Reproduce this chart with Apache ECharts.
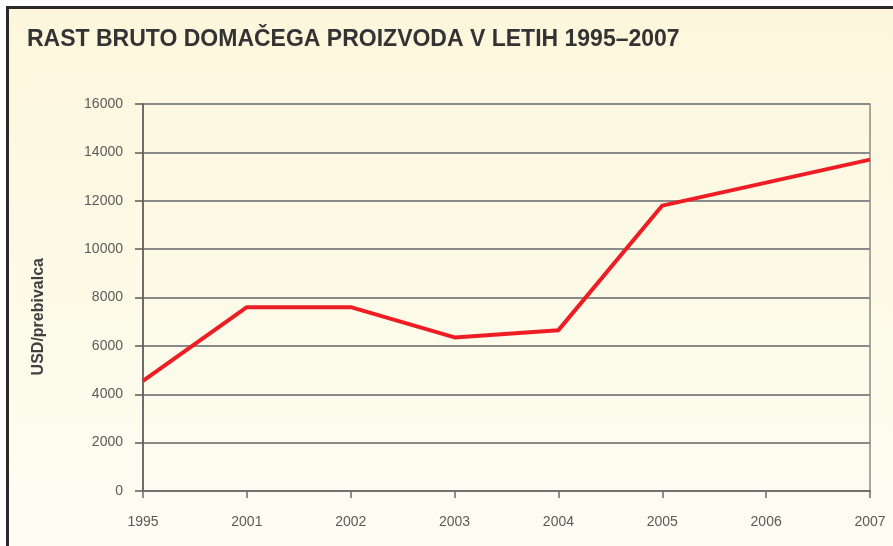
<!DOCTYPE html>
<html><head><meta charset="utf-8">
<style>html,body{margin:0;padding:0;background:#fff}#c{width:893px;height:546px}</style>
<script src="https://cdn.jsdelivr.net/npm/echarts@6/dist/echarts.min.js"></script>
</head><body><div id="c"></div>
<script>
const titleText = 'RAST BRUTO DOMAČEGA PROIZVODA V LETIH 1995–2007';
const yAxisName = 'USD/prebivalca';
const years = ['1995','2001','2002','2003','2004','2005','2006','2007'];
const gdpPerCapita = [4550, 7600, 7600, 6350, 6650, 11800, 12750, 13700];
const yTicks = [0, 2000, 4000, 6000, 8000, 10000, 12000, 14000, 16000];

const chart = echarts.init(document.getElementById('c'), null, {renderer:'canvas'});
chart.setOption({
  animation:false,
  backgroundColor:'#ffffff',
  graphic:[
    {type:'rect', z:-10, silent:true,
     shape:{x:7.5,y:7.5,width:1000,height:1000},
     style:{fill:new echarts.graphic.LinearGradient(0,0,0,0.55,[{offset:0,color:'#fcf7db'},{offset:1,color:'#fefdf3'}]),
            stroke:'#2a2a2a', lineWidth:3}},
    {type:'text', left:31, top:258, rotation:Math.PI/2, silent:true,
     style:{text:yAxisName, font:'bold 16px "Liberation Sans", Arial, sans-serif', fill:'#404040'}}
  ],
  title:{text:titleText, left:22, top:23,
    textStyle:{fontFamily:'"Liberation Sans",Arial,sans-serif', fontWeight:'bold', fontSize:23, color:'#333333'}},
  grid:{left:143, right:23, top:104, bottom:55, show:true, borderColor:'#8a8a8a', borderWidth:1.5, backgroundColor:'transparent'},
  xAxis:{type:'category', data:years, boundaryGap:false,
    axisLine:{lineStyle:{color:'#6a6a6a', width:1.5}},
    axisTick:{show:true, alignWithLabel:true, length:7, lineStyle:{color:'#6a6a6a', width:1.5}},
    axisLabel:{margin:24, color:'#5a5a5a', fontSize:14, fontFamily:'"Liberation Sans", Arial, sans-serif'},
    splitLine:{show:false}},
  yAxis:{type:'value', min:yTicks[0], max:yTicks[yTicks.length-1], interval:yTicks[1]-yTicks[0],
    axisLine:{show:true, lineStyle:{color:'#5a5a5a', width:1.5}},
    axisTick:{show:true, length:8, lineStyle:{color:'#5a5a5a', width:1.5}},
    axisLabel:{margin:20, color:'#5a5a5a', fontSize:14, fontFamily:'"Liberation Sans", Arial, sans-serif',
      formatter:function(v){return String(v);}},
    splitLine:{show:true, lineStyle:{color:'#8a8a8a', width:1.8}}},
  series:[{type:'line', data:gdpPerCapita, symbol:'none', smooth:false,
    lineStyle:{color:'#ee1d23', width:4, join:'round'}}]
});
</script></body></html>
